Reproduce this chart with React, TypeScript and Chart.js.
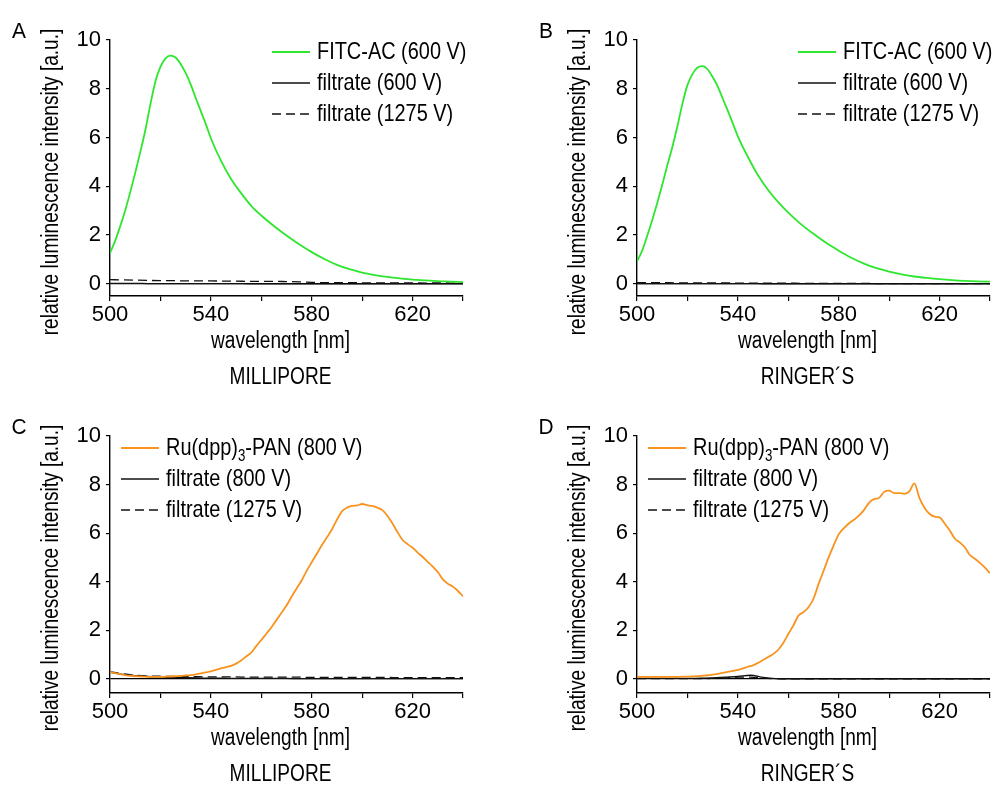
import React, { useEffect, useRef } from 'react';
import { Chart, registerables } from 'chart.js';

Chart.register(...registerables);

const FONT = "'Liberation Sans', Arial, sans-serif";
const SQ = 0.83; // horizontal squeeze to imitate the condensed face of the original

// ---------- data ----------
const X_LABELS = [500, 540, 580, 620];

const GREEN_WL = [500, 502, 504, 506, 508, 510, 512, 514, 516, 518, 520, 522, 524, 526, 528, 530, 532, 534, 536, 538, 540,
  544, 548, 552, 556, 560, 565, 570, 575, 580, 585, 590, 595, 600, 605, 610, 615, 620, 625, 630, 635, 640];

const FITC_MILLIPORE = [1.26, 1.75, 2.35, 3.0, 3.75, 4.55, 5.4, 6.3, 7.35, 8.3, 8.9, 9.25, 9.36, 9.28, 9.02, 8.65, 8.18, 7.62, 7.08, 6.55, 5.97,
  5.05, 4.3, 3.72, 3.2, 2.8, 2.37, 1.98, 1.62, 1.3, 1.02, 0.78, 0.6, 0.46, 0.36, 0.28, 0.22, 0.17, 0.14, 0.11, 0.09, 0.07];

const FITC_RINGER = [0.92, 1.35, 1.95, 2.6, 3.3, 4.05, 4.85, 5.6, 6.45, 7.38, 8.15, 8.6, 8.87, 8.93, 8.8, 8.48, 8.1, 7.6, 7.1, 6.58, 6.05,
  5.2, 4.45, 3.85, 3.35, 2.92, 2.45, 2.05, 1.68, 1.36, 1.07, 0.83, 0.64, 0.5, 0.39, 0.3, 0.24, 0.19, 0.15, 0.12, 0.1, 0.09];

const FILT_WL = [500, 505, 510, 515, 520, 525, 530, 535, 540, 545, 550, 555, 560, 565, 570, 575, 580, 585, 590, 595,
  600, 605, 610, 615, 620, 625, 630, 635, 640];

const FILT600_MILLIPORE = [0.02, 0.02, 0.02, 0.01, 0.01, 0.01, 0.01, 0.01, 0.01, 0.01, 0.01, 0, 0, 0, 0, 0, 0, 0, 0, 0,
  0, 0, 0, 0, 0, 0, 0, 0, 0];
const FILT1275_MILLIPORE_A = [0.17, 0.16, 0.15, 0.14, 0.13, 0.13, 0.12, 0.12, 0.12, 0.11, 0.11, 0.1, 0.1, 0.1, 0.09, 0.08, 0.06, 0.05, 0.05, 0.05,
  0.04, 0.04, 0.04, 0.04, 0.04, 0.03, 0.04, 0.03, 0.03];

const FILT600_RINGER = [0.01, 0.01, 0.01, 0.01, 0.01, 0.01, 0.01, 0.01, 0.01, 0.01, 0, 0, 0, 0, 0, 0, 0, 0, 0, 0,
  0, 0, 0, 0, 0, 0, 0, 0, 0];
const FILT1275_RINGER_B = [0.05, 0.05, 0.05, 0.04, 0.04, 0.04, 0.04, 0.04, 0.03, 0.03, 0.03, 0.03, 0.03, 0.02, 0.02, 0.02, 0.02, 0.02, 0.02, 0.01,
  0.01, 0.01, 0.01, 0.01, 0.01, 0.01, 0.01, 0.01, 0.01];

const FILT800_MILLIPORE = [0.27, 0.19, 0.13, 0.1, 0.08, 0.06, 0.05, 0.04, 0.03, 0.03, 0.02, 0.02, 0.02, 0.02, 0.02, 0.01, 0.01, 0.01, 0.01, 0.01,
  0.01, 0.01, 0.01, 0.01, 0.01, 0.01, 0.01, 0.01, 0.01];
const FILT1275_MILLIPORE_C = [0.3, 0.21, 0.15, 0.12, 0.11, 0.1, 0.09, 0.09, 0.08, 0.08, 0.08, 0.07, 0.07, 0.07, 0.07, 0.07, 0.06, 0.06, 0.06, 0.06,
  0.06, 0.06, 0.06, 0.05, 0.05, 0.05, 0.05, 0.05, 0.05];

const FILT800_RINGER = [0.02, 0.02, 0.02, 0.02, 0.02, 0.03, 0.04, 0.07, 0.1, 0.15, 0.06, 0.01, 0, 0, 0, 0, 0, 0, 0, 0,
  0, 0, 0, 0, 0, 0, 0, 0, 0];
const FILT1275_RINGER_D = [0.01, 0.01, 0.01, 0.01, 0.01, 0.01, 0.02, 0.04, 0.07, 0.07, 0.03, 0.01, 0, 0, 0, 0, 0, 0, 0, 0,
  0, 0, 0, 0, 0, 0, 0, 0, 0];

const RU_WL = [500, 502, 504, 506, 508, 510, 512, 514, 516, 518, 520, 522, 524, 526, 528, 530, 532, 534, 536, 538,
  540, 542, 544, 546, 548, 550, 552, 554, 556, 558, 560, 562, 564, 566, 568, 570, 572, 574, 576, 578,
  580, 582, 584, 586, 588, 590, 592, 594, 596, 598, 600, 602, 604, 606, 608, 610, 612, 614, 616, 618,
  620, 622, 624, 626, 628, 630, 632, 634, 636, 638, 640];

const RU_MILLIPORE = [0.29, 0.24, 0.2, 0.16, 0.13, 0.11, 0.1, 0.09, 0.08, 0.08, 0.08, 0.09, 0.1, 0.11, 0.12, 0.14, 0.16, 0.19, 0.23, 0.27,
  0.31, 0.37, 0.43, 0.49, 0.54, 0.63, 0.76, 0.92, 1.08, 1.35, 1.6, 1.86, 2.12, 2.42, 2.72, 3.02, 3.38, 3.72, 4.05, 4.45,
  4.8, 5.15, 5.5, 5.82, 6.15, 6.55, 6.9, 7.05, 7.12, 7.14, 7.2, 7.15, 7.12, 7.05, 6.95, 6.72, 6.4, 6.05, 5.72, 5.55,
  5.4, 5.2, 5.02, 4.82, 4.62, 4.4, 4.1, 3.92, 3.8, 3.62, 3.4];

const RU_RINGER = [0.08, 0.08, 0.08, 0.08, 0.08, 0.08, 0.08, 0.08, 0.08, 0.09, 0.09, 0.1, 0.11, 0.13, 0.15, 0.18, 0.21, 0.25, 0.29, 0.33,
  0.37, 0.43, 0.5, 0.56, 0.66, 0.78, 0.9, 1.02, 1.2, 1.48, 1.85, 2.2, 2.6, 2.75, 2.95, 3.3, 3.9, 4.45, 5.0, 5.5,
  5.95, 6.2, 6.4, 6.55, 6.72, 6.95, 7.25, 7.4, 7.45, 7.7, 7.75, 7.65, 7.65, 7.62, 7.72, 8.05, 7.45, 7.05, 6.8, 6.68,
  6.65, 6.4, 6.12, 5.78, 5.62, 5.42, 5.1, 4.95, 4.78, 4.58, 4.35];

// ---------- styling / layout ----------
const GREEN = '#2ee62e';
const ORANGE = '#f7931e';
const BLACK = '#111111';
const DASH = [9, 5];

type Series = { label: string; wl: number[]; values: number[]; color: string; width: number; dash: number[] };
type PanelCfg = {
  letter: string; subtitle: string; left: number; top: number; width: number; height: number;
  padTop: number; padRight: number; xScaleHeight: number; yMin: number;
  legendX: number; series: Series[];
};

const Y_TITLE = 'relative luminescence intensity [a.u.]';
const X_TITLE = 'wavelength [nm]';

const PANELS: PanelCfg[] = [
  {
    letter: 'A', subtitle: 'MILLIPORE', left: 0, top: 0, width: 496, height: 394,
    padTop: 40, padRight: 33, xScaleHeight: 98, yMin: -0.5, legendX: 162,
    series: [
      { label: 'FITC-AC (600 V)', wl: GREEN_WL, values: FITC_MILLIPORE, color: GREEN, width: 1.8, dash: [] },
      { label: 'filtrate (600 V)', wl: FILT_WL, values: FILT600_MILLIPORE, color: BLACK, width: 1.3, dash: [] },
      { label: 'filtrate (1275 V)', wl: FILT_WL, values: FILT1275_MILLIPORE_A, color: BLACK, width: 1.3, dash: DASH },
    ],
  },
  {
    letter: 'B', subtitle: 'RINGER\u00B4S', left: 527, top: 0, width: 466, height: 394,
    padTop: 40, padRight: 3, xScaleHeight: 98, yMin: -0.5, legendX: 161,
    series: [
      { label: 'FITC-AC (600 V)', wl: GREEN_WL, values: FITC_RINGER, color: GREEN, width: 1.8, dash: [] },
      { label: 'filtrate (600 V)', wl: FILT_WL, values: FILT600_RINGER, color: BLACK, width: 1.3, dash: [] },
      { label: 'filtrate (1275 V)', wl: FILT_WL, values: FILT1275_RINGER_B, color: BLACK, width: 1.3, dash: DASH },
    ],
  },
  {
    letter: 'C', subtitle: 'MILLIPORE', left: 0, top: 396, width: 496, height: 391,
    padTop: 40, padRight: 33, xScaleHeight: 94, yMin: -0.58, legendX: 11,
    series: [
      { label: 'Ru(dpp)_{3}-PAN (800 V)', wl: RU_WL, values: RU_MILLIPORE, color: ORANGE, width: 1.8, dash: [] },
      { label: 'filtrate (800 V)', wl: FILT_WL, values: FILT800_MILLIPORE, color: BLACK, width: 1.3, dash: [] },
      { label: 'filtrate (1275 V)', wl: FILT_WL, values: FILT1275_MILLIPORE_C, color: BLACK, width: 1.3, dash: DASH },
    ],
  },
  {
    letter: 'D', subtitle: 'RINGER\u00B4S', left: 527, top: 396, width: 466, height: 391,
    padTop: 40, padRight: 3, xScaleHeight: 94, yMin: -0.58, legendX: 11,
    series: [
      { label: 'Ru(dpp)_{3}-PAN (800 V)', wl: RU_WL, values: RU_RINGER, color: ORANGE, width: 1.8, dash: [] },
      { label: 'filtrate (800 V)', wl: FILT_WL, values: FILT800_RINGER, color: BLACK, width: 1.3, dash: [] },
      { label: 'filtrate (1275 V)', wl: FILT_WL, values: FILT1275_RINGER_D, color: BLACK, width: 1.3, dash: DASH },
    ],
  },
];

const LEGEND_ROWS = [12, 43, 74];

function squeezedText(ctx: CanvasRenderingContext2D, text: string, x: number, y: number, size: number, align: CanvasTextAlign, sq = SQ): number {
  ctx.save();
  ctx.font = `${size}px ${FONT}`;
  ctx.textAlign = align;
  ctx.textBaseline = 'middle';
  const w = ctx.measureText(text).width * sq;
  ctx.translate(x, y);
  ctx.scale(sq, 1);
  ctx.fillText(text, 0, 0);
  ctx.restore();
  return w;
}

const panelTextPlugin = {
  id: 'panelText',
  afterDraw(chart: any, _args: any, opts: any) {
    const { ctx, chartArea: ca } = chart;
    ctx.save();
    ctx.fillStyle = '#000';

    squeezedText(ctx, opts.letter, ca.left - 91, ca.top - 8, 22, 'center', 0.95);

    ctx.save();
    ctx.translate(ca.left - 58, ca.top + 142);
    ctx.rotate(-Math.PI / 2);
    squeezedText(ctx, opts.yTitle, 0, 0, 23, 'center');
    ctx.restore();

    const cx = (ca.left + ca.right) / 2 - 6;
    squeezedText(ctx, opts.xTitle, cx, ca.bottom + 46, 23, 'center');
    squeezedText(ctx, opts.subtitle, cx, ca.bottom + 82, 23, 'center');

    // legend
    chart.data.datasets.forEach((ds: any, i: number) => {
      const y = ca.top + LEGEND_ROWS[i];
      const x0 = ca.left + opts.legendX;
      ctx.save();
      ctx.strokeStyle = ds.borderColor;
      ctx.lineWidth = ds.borderWidth;
      ctx.setLineDash(ds.borderDash || []);
      ctx.beginPath();
      ctx.moveTo(x0, y);
      ctx.lineTo(x0 + 38, y);
      ctx.stroke();
      ctx.restore();
      let x = x0 + 45;
      const parts = String(ds.label).split(/_\{([^}]*)\}/);
      parts.forEach((p: string, k: number) => {
        if (k % 2 === 1) {
          x += squeezedText(ctx, p, x, y + 9, 16, 'left');
        } else {
          x += squeezedText(ctx, p, x, y, 24, 'left');
        }
      });
    });
    ctx.restore();
  },
};

function Panel({ cfg }: { cfg: PanelCfg }) {
  const ref = useRef<HTMLCanvasElement>(null);
  useEffect(() => {
    const chart = new Chart(ref.current as HTMLCanvasElement, {
      type: 'line',
      data: {
        datasets: cfg.series.map((s) => ({
          label: s.label,
          data: s.wl.map((w, i) => ({ x: w, y: s.values[i] })),
          borderColor: s.color,
          backgroundColor: s.color,
          borderWidth: s.width,
          borderDash: s.dash,
          pointRadius: 0,
          cubicInterpolationMode: 'monotone',
          fill: false,
        })),
      },
      options: {
        animation: false,
        responsive: false,
        maintainAspectRatio: false,
        events: [],
        layout: { padding: { top: cfg.padTop, right: cfg.padRight, left: 0, bottom: 0 } },
        plugins: {
          legend: { display: false },
          tooltip: { enabled: false },
          title: { display: false },
          panelText: {
            letter: cfg.letter, subtitle: cfg.subtitle, yTitle: Y_TITLE, xTitle: X_TITLE, legendX: cfg.legendX,
          },
        } as any,
        scales: {
          x: {
            type: 'linear',
            min: 500,
            max: 640,
            ticks: {
              stepSize: 20,
              includeBounds: false,
              autoSkip: false,
              maxRotation: 0,
              color: '#000',
              padding: 1,
              font: { family: FONT, size: 22 },
              callback: (v: any) => (X_LABELS.includes(Number(v)) ? String(v) : ''),
            },
            grid: { drawOnChartArea: false, drawTicks: true, tickLength: 5, color: '#000', tickColor: '#000', lineWidth: 1.2 },
            border: { display: true, color: '#000', width: 1.4 },
            afterFit: (s: any) => { s.height = cfg.xScaleHeight; },
          },
          y: {
            type: 'linear',
            min: cfg.yMin,
            max: 10,
            ticks: {
              stepSize: 2,
              includeBounds: false,
              color: '#000',
              padding: 5,
              font: { family: FONT, size: 22 },
            },
            grid: {
              drawOnChartArea: true,
              drawTicks: true,
              tickLength: 4,
              color: (ctx: any) => (ctx.tick && ctx.tick.value === 0 ? '#000' : 'rgba(0,0,0,0)'),
              tickColor: '#000',
              lineWidth: 1.2,
            },
            border: { display: true, color: '#000', width: 1.4 },
            afterFit: (s: any) => { s.width = 110; },
          },
        },
      } as any,
      plugins: [panelTextPlugin],
    });
    return () => chart.destroy();
  }, [cfg]);
  return (
    <canvas
      ref={ref}
      width={cfg.width}
      height={cfg.height}
      style={{ position: 'absolute', left: cfg.left, top: cfg.top, width: cfg.width, height: cfg.height }}
    />
  );
}

export default function App() {
  return (
    <div style={{ position: 'fixed', left: 0, top: 0, width: 993, height: 787, background: '#fff', overflow: 'hidden' }}>
      {PANELS.map((p) => (
        <Panel key={p.letter} cfg={p} />
      ))}
    </div>
  );
}
